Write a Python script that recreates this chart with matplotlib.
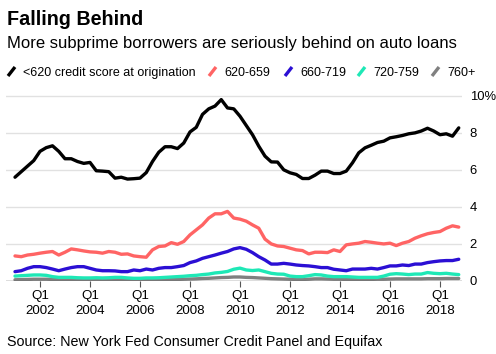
import matplotlib.pyplot as plt
from matplotlib.lines import Line2D
import numpy as np

# ===== data: share of auto loans 90+ days delinquent (%), quarterly Q1 2001 - Q4 2018 =====
start_year = 2001
below_620 = [5.6, 5.9, 6.2, 6.5, 7.0, 7.2, 7.3, 7.0, 6.6, 6.6,
             6.45, 6.35, 6.4, 5.95, 5.93, 5.9, 5.55, 5.6, 5.5, 5.52,
             5.55, 5.85, 6.45, 6.95, 7.25, 7.25, 7.15, 7.45, 8.05, 8.3,
             9.0, 9.3, 9.45, 9.8, 9.35, 9.3, 8.9, 8.4, 7.9, 7.28,
             6.74, 6.43, 6.42, 6.0, 5.84, 5.75, 5.53, 5.53, 5.71, 5.93,
             5.93, 5.8, 5.8, 5.93, 6.38, 6.92, 7.19, 7.33, 7.48, 7.55,
             7.73, 7.79, 7.86, 7.95, 8.0, 8.1, 8.25, 8.1, 7.9, 7.95,
             7.82, 8.27]
s620_659 = [1.34, 1.3, 1.39, 1.43, 1.49, 1.54, 1.58, 1.39, 1.54, 1.72,
            1.67, 1.61, 1.56, 1.54, 1.49, 1.58, 1.54, 1.43, 1.45, 1.34,
            1.3, 1.27, 1.67, 1.85, 1.88, 2.06, 1.97, 2.12, 2.48, 2.75,
            3.02, 3.39, 3.62, 3.62, 3.75, 3.39, 3.33, 3.22, 3.02, 2.84,
            2.25, 1.99, 1.88, 1.85, 1.76, 1.67, 1.63, 1.45, 1.54, 1.54,
            1.52, 1.67, 1.58, 1.94, 1.99, 2.03, 2.12, 2.08, 2.03, 1.99,
            2.03, 1.9, 2.03, 2.12, 2.3, 2.43, 2.54, 2.61, 2.66, 2.84,
            2.97, 2.9]
s660_719 = [0.49, 0.54, 0.67, 0.76, 0.76, 0.71, 0.63, 0.54, 0.63, 0.71,
            0.76, 0.76, 0.67, 0.58, 0.54, 0.54, 0.53, 0.49, 0.49, 0.58,
            0.54, 0.63, 0.58, 0.67, 0.71, 0.71, 0.76, 0.82, 0.98, 1.07,
            1.21, 1.3, 1.39, 1.49, 1.58, 1.72, 1.79, 1.7, 1.52, 1.3,
            1.12, 0.9, 0.9, 0.94, 0.9, 0.85, 0.82, 0.8, 0.76, 0.71,
            0.71, 0.62, 0.58, 0.54, 0.63, 0.63, 0.63, 0.67, 0.63, 0.71,
            0.8, 0.8, 0.85, 0.82, 0.9, 0.9, 0.98, 1.03, 1.07, 1.09,
            1.09, 1.16]
s720_759 = [0.25, 0.27, 0.29, 0.31, 0.31, 0.29, 0.22, 0.18, 0.18, 0.18,
            0.16, 0.15, 0.15, 0.16, 0.15, 0.16, 0.18, 0.18, 0.15, 0.13,
            0.13, 0.15, 0.15, 0.16, 0.18, 0.2, 0.22, 0.24, 0.27, 0.29,
            0.33, 0.36, 0.42, 0.45, 0.5, 0.62, 0.68, 0.58, 0.55, 0.58,
            0.49, 0.4, 0.36, 0.35, 0.25, 0.22, 0.22, 0.27, 0.33, 0.31,
            0.25, 0.22, 0.22, 0.22, 0.2, 0.18, 0.18, 0.18, 0.18, 0.25,
            0.35, 0.38, 0.36, 0.33, 0.36, 0.36, 0.44, 0.4, 0.38, 0.4,
            0.36, 0.33]
s760_plus = [0.05, 0.06, 0.07, 0.08, 0.08, 0.08, 0.07, 0.06, 0.06, 0.06,
             0.05, 0.05, 0.05, 0.05, 0.05, 0.05, 0.05, 0.04, 0.04, 0.04,
             0.04, 0.04, 0.05, 0.05, 0.06, 0.06, 0.07, 0.08, 0.09, 0.1,
             0.12, 0.13, 0.15, 0.17, 0.18, 0.2, 0.2, 0.18, 0.17, 0.15,
             0.13, 0.11, 0.1, 0.09, 0.08, 0.07, 0.07, 0.08, 0.1, 0.1,
             0.09, 0.08, 0.08, 0.07, 0.07, 0.07, 0.07, 0.07, 0.08, 0.08,
             0.09, 0.1, 0.1, 0.1, 0.1, 0.1, 0.11, 0.11, 0.11, 0.12,
             0.12, 0.12]

series_labels = ["<620 credit score at origination", "620-659", "660-719", "720-759", "760+"]
series_values = [below_620, s620_659, s660_719, s720_759, s760_plus]
colors = ["#000000", "#ff6464", "#2b0fd4", "#1ee8b6", "#808080"]

year_ticks = [2002, 2004, 2006, 2008, 2010, 2012, 2014, 2016, 2018]
y_ticks = [0, 2, 4, 6, 8, 10]

plt.rcParams["font.family"] = ["Liberation Sans", "DejaVu Sans"]

x = start_year + 0.25 * np.arange(len(below_620))

fig = plt.figure(figsize=(4.96, 3.54), dpi=100)
ax = fig.add_axes([6 / 496, 1 - 280.7 / 354, 456 / 496, (280.7 - 90) / 354])

zorders = [6, 5, 4, 3, 2]
for vals, c, z in zip(series_values, colors, zorders):
    ax.plot(x, vals, color=c, linewidth=2.4, solid_capstyle="round",
            solid_joinstyle="round", zorder=z)

ax.set_xlim(2000.64, 2018.88)
ax.set_ylim(0, 10.32)

for yv in y_ticks[1:]:
    ax.axhline(yv, color="#e1e1e1", linewidth=1.0, zorder=0)
ax.axhline(0, color="#555555", linewidth=1.0, zorder=7)

for s in ax.spines.values():
    s.set_visible(False)

ax.set_xticks(year_ticks)
ax.set_xticklabels([f"Q1\n{y}" for y in year_ticks], fontsize=9.6, linespacing=1.25)
ax.tick_params(axis="x", length=4, width=0.8, color="#555555", pad=3)

ax.yaxis.tick_right()
ax.set_yticks(y_ticks)
ax.set_yticklabels([str(v) if v < 10 else "10%" for v in y_ticks], fontsize=9.4)
ax.tick_params(axis="y", length=0, pad=5.5)
for lab in ax.get_yticklabels():
    lab.set_horizontalalignment("left")

# ===== titles =====
fig.text(7 / 496, 1 - 25 / 354, "Falling Behind", fontsize=14.2, fontweight="bold")
fig.text(7 / 496, 1 - 48 / 354, "More subprime borrowers are seriously behind on auto loans",
         fontsize=12)

# ===== legend (slanted strokes) =====
leg_x = [8, 209, 285, 358, 432]
for lx, lab, c in zip(leg_x, series_labels, colors):
    fig.add_artist(Line2D([lx / 496, (lx + 7) / 496], [1 - 76 / 354, 1 - 67 / 354],
                          color=c, linewidth=2.4, solid_capstyle="butt"))
    fig.text((lx + 15) / 496, 1 - 76 / 354, lab, fontsize=9)

fig.text(7 / 496, 1 - 346 / 354, "Source: New York Fed Consumer Credit Panel and Equifax",
         fontsize=10.3)

fig.savefig("out.png", facecolor="white")
